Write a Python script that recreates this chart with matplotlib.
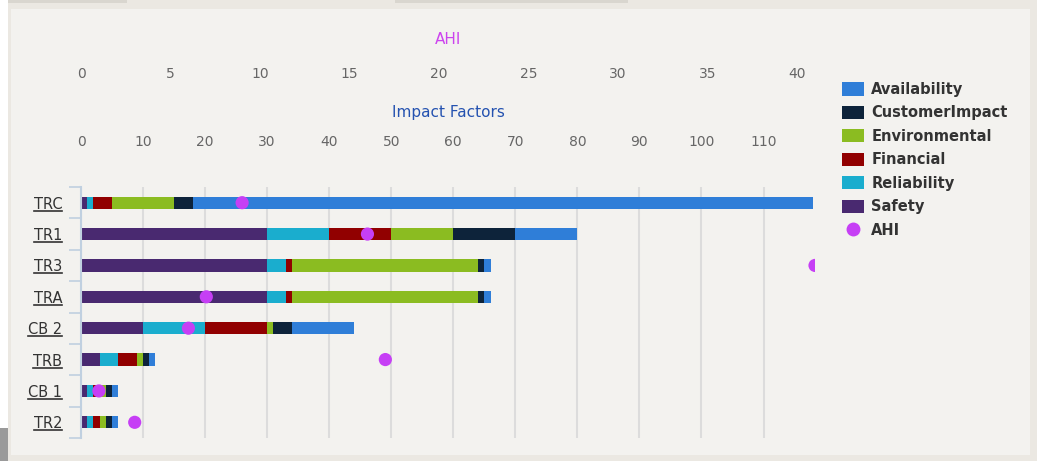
import numpy as np
import matplotlib
matplotlib.use('Agg')
import matplotlib.pyplot as plt
from matplotlib.patches import Rectangle, Patch
from matplotlib.lines import Line2D

# assets, top to bottom
assets = ['TRC', 'TR1', 'TR3', 'TRA', 'CB 2', 'TRB', 'CB 1', 'TR2']

# impact factor components per asset
safety = [1, 30, 30, 30, 10, 3, 1, 1]
reliability = [1, 10, 3, 3, 10, 3, 1, 1]
financial = [3, 10, 1, 1, 10, 3, 1, 1]
environmental = [10, 10, 30, 30, 1, 1, 1, 1]
customer_impact = [3, 10, 1, 1, 3, 1, 1, 1]
availability = [100, 10, 1, 1, 10, 1, 1, 1]

# asset health index
ahi = [9, 16, 41, 7, 6, 17, 1, 3]

impact_ticks = list(range(0, 111, 10))
ahi_ticks = list(range(0, 41, 5))

series = [
    ('Safety', safety, '#492970'),
    ('Reliability', reliability, '#1aadce'),
    ('Financial', financial, '#910000'),
    ('Environmental', environmental, '#8bbc21'),
    ('CustomerImpact', customer_impact, '#0d233a'),
    ('Availability', availability, '#2f7ed8'),
]
ahi_color = '#c63ff5'

W, H = 1037, 461
fig = plt.figure(figsize=(W / 100, H / 100), dpi=100)
fig.patch.set_facecolor('#ebe8e2')

def px_rect(x0, y0, x1, y1, color):
    fig.patches.append(Rectangle((x0 / W, 1 - y1 / H), (x1 - x0) / W, (y1 - y0) / H,
                                 transform=fig.transFigure, facecolor=color,
                                 edgecolor='none', zorder=-10))

px_rect(0, 0, 8, 428, '#ffffff')
px_rect(0, 428, 8, 461, '#9a9a9a')
px_rect(8, 0, 127, 3, '#d9d6cf')
px_rect(395, 0, 628, 3, '#d9d6cf')
px_rect(11, 9, 1030, 455, '#f3f2ef')

left, right, top, bottom = 81, 815, 187, 438
ax = fig.add_axes([left / W, 1 - bottom / H, (right - left) / W, (bottom - top) / H])
ax.set_facecolor('none')

y = np.arange(len(assets))
base = np.zeros(len(assets))
for name, vals, col in series:
    ax.barh(y, vals, left=base, height=0.39, color=col, edgecolor='none', zorder=2)
    base += np.array(vals)

# second axis for the health index dots
ax2 = ax.twiny()
ax2.set_xlim(0, 41)
ax2.set_xticks(ahi_ticks)
ax2.tick_params(axis='x', length=0, pad=76.5, labelsize=10, labelcolor='#666666')
for s in ax2.spines.values():
    s.set_visible(False)
ax2.scatter(ahi, y, s=90, color=ahi_color, edgecolors='none', zorder=5)

ax.set_xlim(0, max(base) + 0.3)
ax.set_ylim(len(assets) - 0.5, -0.5)
ax.xaxis.tick_top()
ax.set_xticks(impact_ticks)
ax.tick_params(axis='x', length=0, pad=27, labelsize=10, labelcolor='#666666',
               labeltop=True, labelbottom=False)
ax.set_axisbelow(True)
ax.xaxis.grid(True, color='#dcdcdc', lw=1.5)

ax.set_yticks(y)
ax.set_yticklabels(assets)
ax.set_yticks(np.arange(-0.5, len(assets)), minor=True)
ax.tick_params(axis='y', which='major', length=0, pad=13.5, labelsize=10.5, labelcolor='#333333')
ax.tick_params(axis='y', which='minor', length=9, width=1.2, color='#c0d0e0')
for s in ['top', 'right', 'bottom']:
    ax.spines[s].set_visible(False)
ax.spines['left'].set_color('#c0d0e0')
ax.spines['left'].set_linewidth(1.5)

fig.text(448 / W, 1 - 40 / H, 'AHI', color='#cc44ee', fontsize=11, ha='center', va='center')
fig.text(448 / W, 1 - 113 / H, 'Impact Factors', color='#2452b0', fontsize=11,
         ha='center', va='center')

handles = [Patch(facecolor=c, edgecolor='none', label=n) for n, _, c in series[::-1]]
handles.append(Line2D([], [], marker='o', ls='none', markersize=10,
                      markerfacecolor=ahi_color, markeredgecolor='none', label='AHI'))
leg = fig.legend(handles=handles, loc='upper left', bbox_to_anchor=(842 / W, 1 - 82 / H),
                 frameon=False, prop={'weight': 'bold', 'size': 10.5},
                 handlelength=1.5, handleheight=1.0, handletextpad=0.5,
                 labelspacing=0.58, borderaxespad=0, borderpad=0)
for t in leg.get_texts():
    t.set_color('#333333')

# underline the asset labels
fig.canvas.draw()
for lab in ax.get_yticklabels():
    bb = lab.get_window_extent()
    yy = (bb.y0 + 1) / H
    fig.lines.append(Line2D([bb.x0 / W, bb.x1 / W], [yy, yy], transform=fig.transFigure,
                            color='#333333', lw=1.2))

fig.savefig('out.png', dpi=100, facecolor=fig.get_facecolor())
